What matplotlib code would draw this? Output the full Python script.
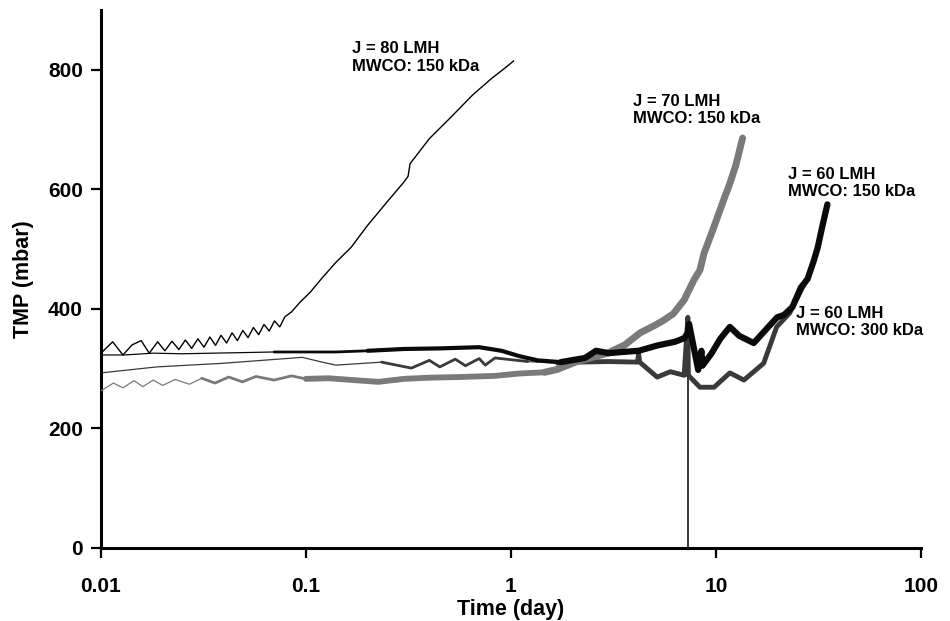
import matplotlib
matplotlib.use("Agg")
import matplotlib.pyplot as plt
import numpy as np

plt.rcParams['font.family'] = ['Liberation Sans', 'DejaVu Sans']
plt.rcParams['font.weight'] = 'bold'

# J = 80 LMH, MWCO 150 kDa
t80 = [0.0100, 0.0114, 0.0128, 0.0142, 0.0157, 0.0172, 0.0189, 0.0205, 0.0222, 0.0240,
       0.0258, 0.0277, 0.0297, 0.0318, 0.0340, 0.0362, 0.0385, 0.0410, 0.0436, 0.0463,
       0.0492, 0.0522, 0.0554, 0.0588, 0.0624, 0.0662, 0.0702, 0.0745, 0.079, 0.085,
       0.094, 0.105, 0.12, 0.14, 0.166, 0.20, 0.25, 0.30, 0.315, 0.322,
       0.40, 0.51, 0.65, 0.80, 0.95, 1.03]
tmp80 = [326, 345, 323, 340, 347, 326, 345, 330, 346, 332,
         348, 334, 350, 336, 353, 339, 356, 343, 360, 347,
         364, 352, 369, 357, 374, 363, 380, 370, 387, 395,
         412, 428, 452, 478, 503, 540, 580, 612, 622, 643,
         685, 721, 758, 785, 805, 815]

# J = 70 LMH, MWCO 150 kDa
t70 = [0.010, 0.0115, 0.0128, 0.0145, 0.016, 0.018, 0.020, 0.023, 0.027, 0.031,
       0.036, 0.042, 0.049, 0.057, 0.07, 0.085, 0.10, 0.129, 0.17, 0.226,
       0.3, 0.4, 0.55, 0.836, 1.1, 1.46, 1.69, 2.1, 2.96, 3.6,
       4.27, 5.0, 5.5, 6.2, 7.0, 7.8, 8.36, 8.75, 9.78, 10.9,
       11.7, 12.5, 13.5]
tmp70 = [263, 276, 268, 280, 270, 281, 272, 282, 274, 284,
         276, 286, 278, 287, 281, 288, 283, 284, 281, 278,
         283, 285, 286, 288, 292, 294, 299, 312, 326, 340,
         360, 372, 380, 392, 415, 448, 465, 493, 537, 582,
         610, 640, 686]

# J = 60 LMH, MWCO 150 kDa
t60a = [0.010, 0.013, 0.018, 0.025, 0.035, 0.05, 0.07, 0.1, 0.14, 0.2,
        0.3, 0.45, 0.7, 0.9, 1.1, 1.35, 1.75, 2.3, 2.6, 3.0,
        3.5, 4.2, 5.2, 6.3, 7.0, 7.3, 7.4, 8.2, 8.5, 8.6,
        9.5, 10.5, 11.7, 13.0, 15.3, 17.5, 19.9, 21.5, 23.6, 26.0,
        28.0, 30.0, 31.4, 33.0, 35.0]
tmp60a = [323, 323, 326, 325, 326, 327, 328, 328, 328, 330,
          333, 334, 336, 330, 321, 314, 311, 318, 330, 326,
          328, 330, 339, 345, 351, 360, 375, 298, 330, 305,
          325, 350, 370, 355, 343, 365, 386, 390, 403, 436,
          450, 480, 503, 537, 575]

# J = 60 LMH, MWCO 300 kDa
t60b = [0.010, 0.0187, 0.039, 0.096, 0.12, 0.14, 0.234, 0.327, 0.40, 0.45,
        0.535, 0.60, 0.70, 0.75, 0.836, 1.21, 1.69, 2.1, 3.0, 4.14,
        4.2, 4.25, 5.17, 6.0, 7.0, 7.30, 7.32, 7.34, 8.36, 9.8,
        11.7, 13.7, 17.1, 19.8, 22.9, 27.6]
tmp60b = [293, 303, 309, 319, 311, 306, 311, 301, 314, 303,
          316, 305, 317, 306, 318, 312, 309, 311, 312, 311,
          325, 311, 286, 295, 289, 386, 0, 289, 269, 269,
          293, 281, 309, 370, 393, 448]

fig = plt.figure(figsize=(9.5, 6.21), dpi=100)
ax = fig.add_axes([0.1063, 0.1176, 0.863, 0.866])


def draw(t, v, color, parts, z):
    t = np.array(t)
    v = np.array(v, dtype=float)
    ax.plot(t, v, color=color, lw=0.9, zorder=z)
    # noisy stretches of the record are drawn as a band
    for t0, t1, lw in parts:
        m = (t >= t0) & (t <= t1) & (v > 0)
        ax.plot(t[m], v[m], color=color, lw=lw, zorder=z,
                solid_joinstyle='round', solid_capstyle='round')


draw(t60b, tmp60b, '#3a3a3a', [(0.2, 1.5, 2.0), (1.5, 30, 3.5)], 2)
draw(t70, tmp70, '#7a7a7a', [(0.03, 0.1, 2.0), (0.1, 1.5, 4.2), (1.4, 20, 5.0)], 3)
draw(t60a, tmp60a, '#0a0a0a', [(0.07, 0.2, 2.0), (0.2, 1.75, 3.0), (1.75, 40, 4.5)], 4)
ax.plot(t80, tmp80, color='black', lw=1.0, zorder=5)

fs = 12
ax.text(0.167, 848, 'J = 80 LMH\nMWCO: 150 kDa', fontsize=fs, fontweight='bold', va='top')
ax.text(3.95, 760, 'J = 70 LMH\nMWCO: 150 kDa', fontsize=fs, fontweight='bold', va='top')
ax.text(22.6, 638, 'J = 60 LMH\nMWCO: 150 kDa', fontsize=fs, fontweight='bold', va='top')
ax.text(24.7, 405, 'J = 60 LMH\nMWCO: 300 kDa', fontsize=fs, fontweight='bold', va='top')

ax.set_xscale('log')
ax.set_xlim(0.01, 100)
ax.set_ylim(0, 900)
ax.set_xticks([0.01, 0.1, 1, 10, 100])
ax.set_xticklabels(['0.01', '0.1', '1', '10', '100'])
ax.set_yticks([0, 200, 400, 600, 800])
ax.minorticks_off()
ax.tick_params(axis='both', labelsize=15, width=1.6, length=7, direction='out')
ax.tick_params(axis='x', pad=14)
ax.tick_params(axis='y', pad=6)
for lab in ax.get_xticklabels() + ax.get_yticklabels():
    lab.set_fontweight('bold')

ax.spines['top'].set_visible(False)
ax.spines['right'].set_visible(False)
ax.spines['left'].set_linewidth(2.2)
ax.spines['bottom'].set_linewidth(2.2)

ax.set_xlabel('Time (day)', fontsize=15.5, fontweight='bold', labelpad=2)
ax.set_ylabel('TMP (mbar)', fontsize=15.5, fontweight='bold', labelpad=10)

fig.savefig('out.png', dpi=100)
